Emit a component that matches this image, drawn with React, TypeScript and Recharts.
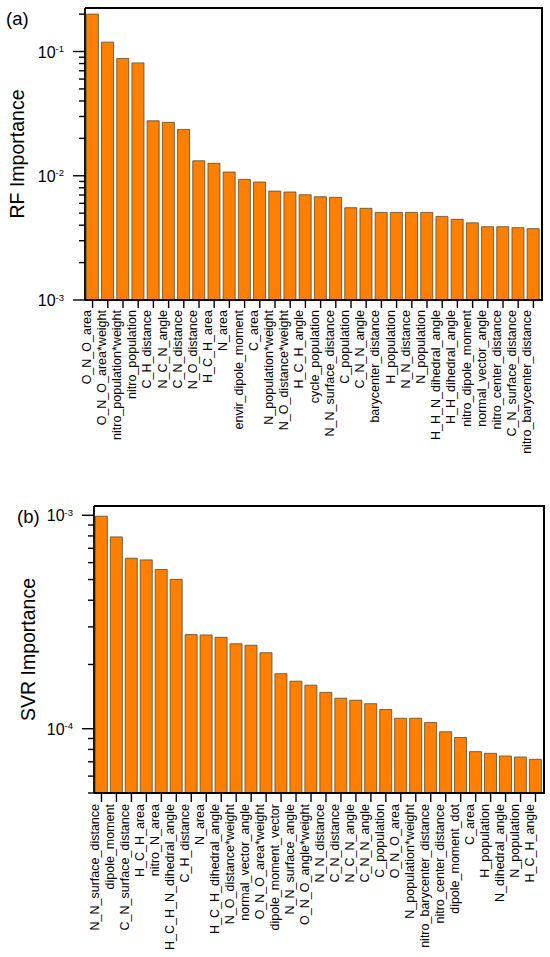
import { BarChart, Bar, XAxis, YAxis } from 'recharts'

const rfFeatures = [
  'O_N_O_area', 'O_N_O_area*weight', 'nitro_population*weight', 'nitro_population',
  'C_H_distance', 'N_C_N_angle', 'C_N_distance', 'N_O_distance', 'H_C_H_area', 'N_area',
  'envir_dipole_moment', 'C_area', 'N_population*weight', 'N_O_distance*weight', 'H_C_H_angle',
  'cycle_population', 'N_N_surface_distance', 'C_population', 'C_N_N_angle', 'barycenter_distance',
  'H_population', 'N_N_distance', 'N_population', 'H_H_N_dihedral_angle', 'H_H_dihedral_angle',
  'nitro_dipole_moment', 'normal_vector_angle', 'nitro_center_distance', 'C_N_surface_distance',
  'nitro_barycenter_distance',
]
const rfValues = [
  0.2, 0.119, 0.088, 0.081, 0.0277, 0.0269, 0.0236, 0.0132, 0.0126, 0.0107,
  0.00935, 0.0089, 0.00753, 0.0074, 0.00703, 0.00678, 0.0067, 0.00553, 0.00547, 0.00507,
  0.00507, 0.00507, 0.00507, 0.00471, 0.00446, 0.00418, 0.00389, 0.00389, 0.00382, 0.00375,
]

const svrFeatures = [
  'N_N_surface_distance', 'dipole_moment', 'C_N_surface_distance', 'H_C_H_area', 'nitro_N_area',
  'H_C_H_N_dihedral_angle', 'C_H_distance', 'N_area', 'H_C_H_dihedral_angle', 'N_O_distance*weight',
  'normal_vector_angle', 'O_N_O_area*weight', 'dipole_moment_vector', 'N_N_surface_angle',
  'O_N_O_angle*weight', 'N_N_distance', 'C_N_distance', 'N_C_N_angle', 'C_N_N_angle', 'C_population',
  'O_N_O_area', 'N_population*weight', 'nitro_barycenter_distance', 'nitro_center_distance',
  'dipole_moment_dot', 'C_area', 'H_population', 'N_dihedral_angle', 'N_population', 'H_C_H_angle',
]
const svrValues = [
  9.9e-4, 7.92e-4, 6.29e-4, 6.18e-4, 5.57e-4, 5.01e-4, 2.76e-4, 2.75e-4, 2.68e-4, 2.5e-4,
  2.46e-4, 2.27e-4, 1.81e-4, 1.67e-4, 1.6e-4, 1.48e-4, 1.39e-4, 1.36e-4, 1.31e-4, 1.23e-4,
  1.12e-4, 1.12e-4, 1.07e-4, 9.68e-5, 9.1e-5, 7.81e-5, 7.67e-5, 7.45e-5, 7.37e-5, 7.19e-5,
]

const rfTicks = [
  0.001, 0.002, 0.003, 0.004, 0.005, 0.006, 0.007, 0.008, 0.009,
  0.01, 0.02, 0.03, 0.04, 0.05, 0.06, 0.07, 0.08, 0.09,
  0.1, 0.2,
]
const svrTicks = [
  5e-5, 6e-5, 7e-5, 8e-5, 9e-5,
  1e-4, 2e-4, 3e-4, 4e-4, 5e-4, 6e-4, 7e-4, 8e-4, 9e-4,
  1e-3,
]

const FONT = '"Liberation Sans", Arial, sans-serif'
const ORANGE = '#ff8000'
const frameLine = { stroke: '#000', strokeWidth: 1.8 }

function LogTick(props: any) {
  const { x, y, payload } = props
  const lg = Math.log10(payload.value)
  const exp = Math.round(lg)
  const major = Math.abs(lg - exp) < 1e-6
  return (
    <g>
      <line x1={x} x2={x - (major ? 12 : 6)} y1={y} y2={y} stroke="#000" strokeWidth={1.4} />
      {major && (
        <text x={x - 21} y={y + 6} textAnchor="end" fontSize={16} fill="#000" fontFamily={FONT}>
          10<tspan dy={-5.5} fontSize={9.5}>{exp}</tspan>
        </text>
      )}
    </g>
  )
}

function CatTick(props: any) {
  const { x, y, payload } = props
  const tx = x - 2
  return (
    <text x={tx} y={y} transform={`rotate(-90, ${tx}, ${y})`} textAnchor="end"
      fontSize={12.5} fill="#000" fontFamily={FONT}>
      {payload.value}
    </text>
  )
}

function AxisTitle(props: any) {
  const { viewBox, text, dx, tag, tagX } = props
  const cx = viewBox.x + dx
  const cy = viewBox.y + viewBox.height / 2
  return (
    <g fontFamily={FONT} fill="#000">
      <text x={cx} y={cy} transform={`rotate(-90, ${cx}, ${cy})`} textAnchor="middle" fontSize={19.5}>
        {text}
      </text>
      <text x={tagX} y={viewBox.y + 17} fontSize={18.5}>{tag}</text>
    </g>
  )
}

function Panel(props: any) {
  const { names, values, ticks, domain, height, top, yWidth, right, xHeight, tickSize, title, titleDx, tag, tagX } = props
  const data = names.map((n: string, i: number) => ({ name: n, value: values[i] }))
  return (
    <div style={{ position: 'absolute', left: 0, top: 0, width: 550, height }}>
      <BarChart width={550} height={height} data={data} barCategoryGap="9%"
        margin={{ top, right, left: 0, bottom: 0 }}>
        <XAxis dataKey="name" interval={0} height={xHeight} tick={<CatTick />}
          tickSize={tickSize} tickMargin={2} tickLine={{ stroke: '#000', strokeWidth: 1.4 }}
          axisLine={frameLine} />
        <YAxis scale="log" domain={domain} allowDataOverflow ticks={ticks} interval={0}
          width={yWidth} tickSize={0} tickMargin={0} tickLine={false} tick={<LogTick />}
          axisLine={frameLine}
          label={<AxisTitle text={title} dx={titleDx} tag={tag} tagX={tagX} />} />
        <Bar dataKey="value" fill={ORANGE} stroke="#5a4a2a" strokeWidth={0.8} isAnimationActive={false} />
      </BarChart>
      {/* top and right edges of the plot box */}
      <div style={{
        position: 'absolute', left: yWidth, top: top - 1, width: 550 - right - yWidth, height: height - xHeight - top,
        borderTop: '2px solid #000', borderRight: '2px solid #000', pointerEvents: 'none',
      }} />
    </div>
  )
}

export default function App() {
  return (
    <div style={{ position: 'absolute', left: 0, top: 0, width: 550, height: 957, background: '#fff' }}>
      <Panel names={rfFeatures} values={rfValues} ticks={rfTicks} domain={[0.001, 0.224]}
        height={480} top={8} yWidth={85} right={9} xHeight={180} tickSize={8}
        title="RF Importance" titleDx={24} tag="(a)" tagX={6} />
      <div style={{ position: 'absolute', left: 0, top: 490, width: 550, height: 467 }}>
        <Panel names={svrFeatures} values={svrValues} ticks={svrTicks} domain={[5e-5, 1.105e-3]}
          height={467} top={16} yWidth={94} right={7} xHeight={164} tickSize={9}
          title="SVR Importance" titleDx={35} tag="(b)" tagX={17} />
      </div>
    </div>
  )
}
